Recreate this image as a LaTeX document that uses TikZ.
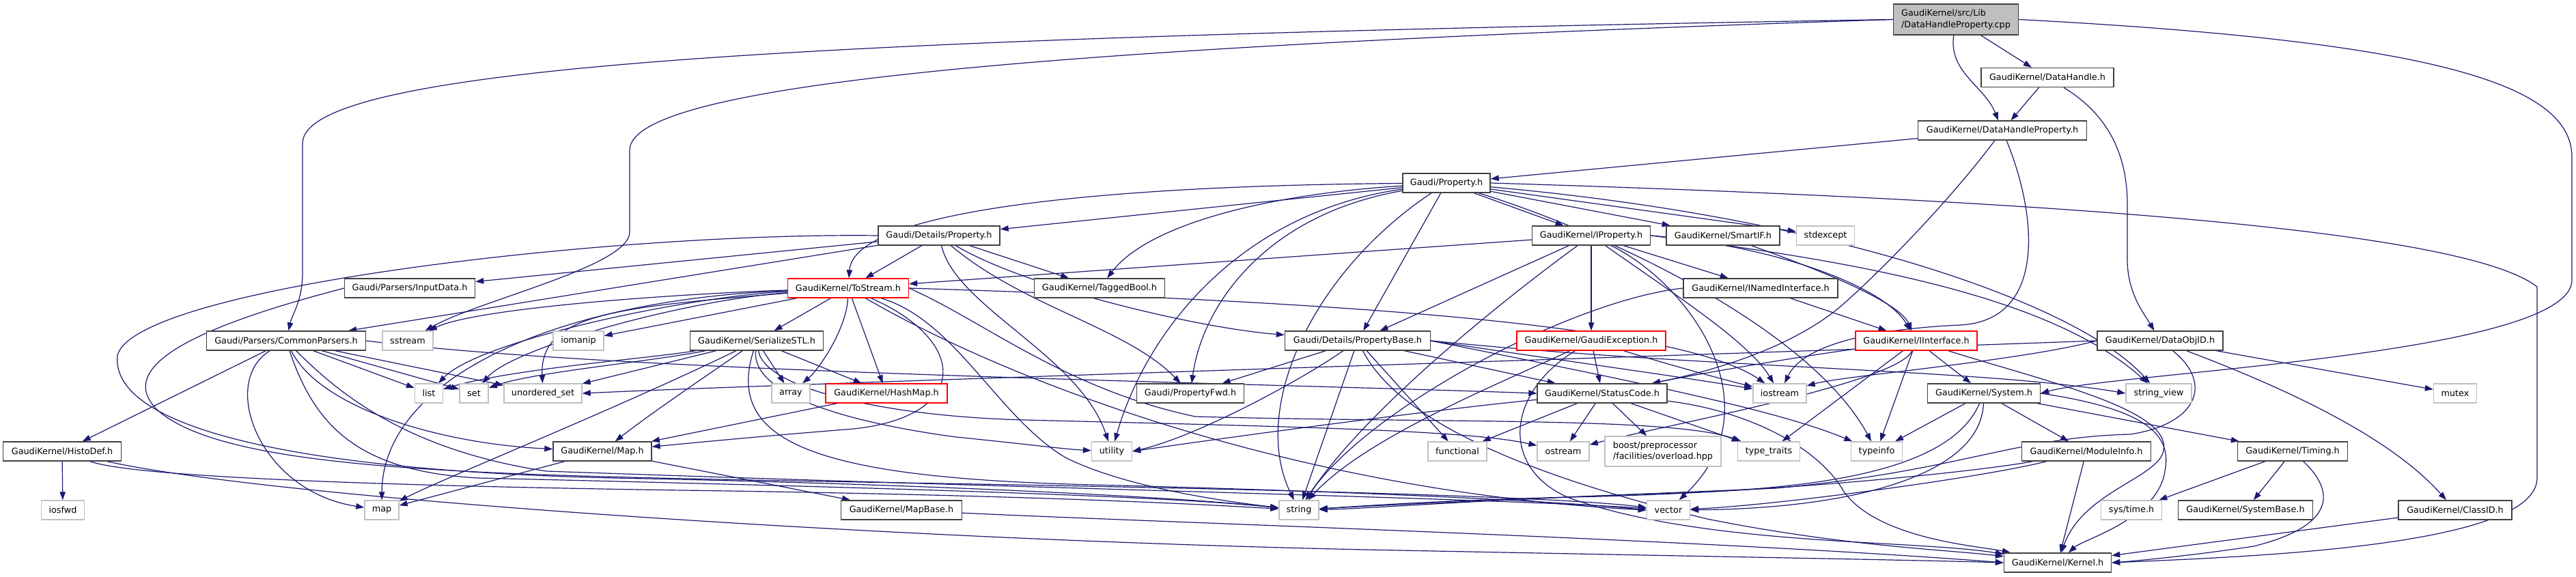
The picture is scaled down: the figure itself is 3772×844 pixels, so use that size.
\documentclass[tikz,border=0pt]{standalone}
\usepackage{fontspec}
\newfontfamily\dvs{DejaVu Sans}
\usetikzlibrary{arrows.meta,backgrounds}
\definecolor{EdgeBlue}{RGB}{25,25,112}
\definecolor{FrameDark}{RGB}{64,64,64}
\definecolor{FrameLight}{RGB}{191,191,191}
\definecolor{FrameRed}{RGB}{255,0,0}
\definecolor{RootGray}{RGB}{191,191,191}
\tikzset{
  hdr/.style    ={rectangle, draw=FrameDark, line width=1.4pt, fill=white, text=black,
                  font=\dvs\fontsize{12.8}{16.8}\selectfont, minimum height=28pt, inner sep=0pt},
  syshdr/.style ={hdr, draw=FrameLight},
  cuthdr/.style ={hdr, draw=FrameRed},
  roothdr/.style={hdr, fill=RootGray, align=left, minimum height=45pt},
  dep/.style    ={-{Triangle[length=12pt,width=8.5pt]}, draw=EdgeBlue, line width=1.2pt},
}
\begin{document}
\begin{tikzpicture}[x=1pt,y=-1pt]
  \useasboundingbox (0,0) rectangle (3772,844);

  \node[roothdr,minimum width=183pt] (cpp) at (2864,28.5) {GaudiKernel/src/Lib\\/DataHandleProperty.cpp};
  \node[hdr,minimum width=194pt] (dhandle) at (2998,113.5) {GaudiKernel/DataHandle.h};
  \node[hdr,minimum width=247pt] (dhprop) at (2932,191) {GaudiKernel/DataHandleProperty.h};
  \node[hdr,minimum width=128pt] (prop) at (2118,268) {Gaudi/Property.h};
  \node[hdr,minimum width=178pt] (detprop) at (1375,345) {Gaudi/Details/Property.h};
  \node[hdr,minimum width=173pt] (iprop) at (2330,345) {GaudiKernel/IProperty.h};
  \node[hdr,minimum width=166pt] (smartif) at (2523,345) {GaudiKernel/SmartIF.h};
  \node[syshdr,minimum width=85pt] (stdexcept) at (2673,345) {stdexcept};
  \node[hdr,minimum width=191pt] (indata) at (600,422) {Gaudi/Parsers/InputData.h};
  \node[cuthdr,minimum width=177pt] (tostream) at (1242,422) {GaudiKernel/ToStream.h};
  \node[hdr,minimum width=191pt] (taggedbool) at (1610,422) {GaudiKernel/TaggedBool.h};
  \node[hdr,minimum width=226pt] (inamed) at (2578,422) {GaudiKernel/INamedInterface.h};
  \node[hdr,minimum width=233pt] (commonp) at (419,499) {Gaudi/Parsers/CommonParsers.h};
  \node[syshdr,minimum width=74pt] (sstream) at (597,499) {sstream};
  \node[syshdr,minimum width=74pt] (iomanip) at (847,499) {iomanip};
  \node[hdr,minimum width=195pt] (serial) at (1108,499) {GaudiKernel/SerializeSTL.h};
  \node[hdr,minimum width=213pt] (propbase) at (1988,499) {Gaudi/Details/PropertyBase.h};
  \node[cuthdr,minimum width=218pt] (gexc) at (2330,499) {GaudiKernel/GaudiException.h};
  \node[cuthdr,minimum width=178pt] (iiface) at (2806,499) {GaudiKernel/IInterface.h};
  \node[hdr,minimum width=184pt] (dataobjid) at (3163,499) {GaudiKernel/DataObjID.h};
  \node[syshdr,minimum width=41pt] (list) at (628,576) {list};
  \node[syshdr,minimum width=42pt] (set) at (694,576) {set};
  \node[syshdr,minimum width=114pt] (uset) at (795,576) {unordered\_set};
  \node[syshdr,minimum width=56pt] (array) at (1158,576) {array};
  \node[cuthdr,minimum width=178pt] (hashmap) at (1298,576) {GaudiKernel/HashMap.h};
  \node[hdr,minimum width=157pt] (propfwd) at (1743,576) {Gaudi/PropertyFwd.h};
  \node[hdr,minimum width=190pt] (statuscode) at (2346,576) {GaudiKernel/StatusCode.h};
  \node[syshdr,minimum width=78pt] (iostream) at (2606,576) {iostream};
  \node[hdr,minimum width=165pt] (system) at (2905,576) {GaudiKernel/System.h};
  \node[syshdr,minimum width=96pt] (strview) at (3161,576) {string\_view};
  \node[syshdr,minimum width=63pt] (mutex) at (3595,576) {mutex};
  \node[hdr,minimum width=173pt] (histodef) at (91,661) {GaudiKernel/HistoDef.h};
  \node[hdr,minimum width=144pt] (maph) at (882,661) {GaudiKernel/Map.h};
  \node[syshdr,minimum width=59pt] (utility) at (1628,661) {utility};
  \node[syshdr,minimum width=86pt] (functional) at (2134,661) {functional};
  \node[syshdr,minimum width=76pt] (ostream) at (2289,661) {ostream};
  \node[syshdr,align=left,minimum width=170pt,minimum height=44pt] (boost) at (2435,661) {boost/preprocessor\\/facilities/overload.hpp};
  \node[syshdr,minimum width=91pt] (typetraits) at (2590,661) {type\_traits};
  \node[syshdr,minimum width=75pt] (typeinfo) at (2748,661) {typeinfo};
  \node[hdr,minimum width=189pt] (modinfo) at (3055,661) {GaudiKernel/ModuleInfo.h};
  \node[hdr,minimum width=161pt] (timing) at (3357,661) {GaudiKernel/Timing.h};
  \node[syshdr,minimum width=63pt] (iosfwd) at (92,747) {iosfwd};
  \node[syshdr,minimum width=50pt] (map) at (559,747) {map};
  \node[hdr,minimum width=177pt] (mapbase) at (1320,747) {GaudiKernel/MapBase.h};
  \node[syshdr,minimum width=58pt] (string) at (1902,747) {string};
  \node[syshdr,minimum width=63pt] (vector) at (2443,747) {vector};
  \node[syshdr,minimum width=89pt] (systime) at (3121,747) {sys/time.h};
  \node[hdr,minimum width=197pt] (sysbase) at (3288,747) {GaudiKernel/SystemBase.h};
  \node[hdr,minimum width=166pt] (classid) at (3595,747) {GaudiKernel/ClassID.h};
  \node[hdr,minimum width=157pt] (kernel) at (3013,824) {GaudiKernel/Kernel.h};

  \begin{scope}[on background layer]
    \fill[white] (0,0) rectangle (3772,844);

    \foreach \s/\t in {cpp/dhandle, dhandle/dhprop, dhprop/prop, prop/detprop, prop/propbase,
        prop/iprop, prop/smartif, prop/stdexcept, detprop/indata, detprop/commonp,
        detprop/tostream, detprop/taggedbool, tostream/iomanip, tostream/serial,
        tostream/hashmap, iprop/tostream, iprop/propbase, iprop/gexc, iprop/inamed,
        serial/array, serial/hashmap, serial/uset, commonp/histodef, commonp/list,
        commonp/set, commonp/uset, histodef/iosfwd, hashmap/maph, maph/map, maph/mapbase,
        propbase/propfwd, propbase/statuscode, propbase/functional, propbase/string,
        gexc/statuscode, inamed/iiface, iiface/system, iiface/typeinfo, iiface/typetraits,
        statuscode/boost, statuscode/functional, statuscode/ostream, statuscode/typetraits,
        system/modinfo, system/timing, system/typeinfo, modinfo/kernel, timing/systime,
        timing/sysbase, dataobjid/mutex, classid/kernel}
      \draw[dep] (\s) -- (\t);

    \draw[dep] (cpp) to[out=-98,in=112] (dhprop);
    \draw[dep] (cpp.west) .. controls (1200,55) and (443,95) .. (443,210) -- (443,400)
      .. controls (443,440) and (428,460) .. (commonp);
    \draw[dep] (cpp.west) .. controls (1500,70) and (922,125) .. (922,220) -- (922,340)
      .. controls (922,390) and (700,440) .. (sstream);
    \draw[dep] (cpp.east) .. controls (3550,60) and (3766,120) .. (3766,230) -- (3766,410)
      .. controls (3766,520) and (3100,545) .. (system.east);

    \draw[dep] (dhandle) .. controls (3090,170) and (3115,230) .. (3115,300) -- (3115,380)
      .. controls (3115,430) and (3140,460) .. (dataobjid);
    \draw[dep] (dhprop) .. controls (2850,300) and (2750,400) .. (2705,440)
      .. controls (2630,510) and (2500,545) .. (statuscode);
    \draw[dep] (dhprop) .. controls (2985,320) and (2995,470) .. (2870,476)
      .. controls (2740,482) and (2640,505) .. (iostream);

    \draw[dep] (prop) .. controls (1600,272) and (1250,310) .. (tostream);
    \draw[dep] (prop) .. controls (1850,285) and (1680,330) .. (taggedbool);
    \draw[dep] (prop) .. controls (1820,310) and (1680,480) .. (utility);
    \draw[dep] (prop) .. controls (1850,315) and (1760,450) .. (propfwd);
    \draw[dep] (prop) .. controls (1920,400) and (1830,600) .. (string);
    \draw[dep] (prop) .. controls (2350,340) and (2650,480) .. (typeinfo);
    \draw[dep] (prop) .. controls (2700,320) and (3050,450) .. (strview);
    \draw[dep] (prop.east) .. controls (2900,290) and (3600,330) .. (3715,420) -- (3715,700)
      .. controls (3715,800) and (3300,815) .. (kernel.east);

    \draw[dep] (detprop) .. controls (1500,420) and (1750,480) .. (propbase);
    \draw[dep] (detprop) .. controls (1500,450) and (1650,480) .. (propfwd);
    \draw[dep] (detprop) .. controls (1400,450) and (1580,520) .. (utility);
    \draw[dep] (detprop.west) .. controls (900,340) and (200,420) .. (172,520)
      .. controls (160,630) and (450,690) .. (900,700) .. controls (1400,710) and (1750,730) .. (string);

    \draw[dep] (indata.west) .. controls (320,470) and (160,530) .. (230,600)
      .. controls (330,690) and (700,695) .. (1200,705) .. controls (2000,718) and (2300,730) .. (vector);

    \draw[dep] (tostream) .. controls (1000,430) and (700,450) .. (sstream);
    \draw[dep] (tostream) .. controls (1000,435) and (700,500) .. (list);
    \draw[dep] (tostream) .. controls (1000,440) and (750,510) .. (set);
    \draw[dep] (tostream) .. controls (900,450) and (790,460) .. (uset);
    \draw[dep] (tostream) .. controls (800,440) and (560,560) .. (map);
    \draw[dep] (tostream) .. controls (1240,480) and (1200,540) .. (array);
    \draw[dep] (tostream) .. controls (1420,500) and (1420,610) .. (1250,628)
      .. controls (1100,640) and (1000,650) .. (maph);
    \draw[dep] (tostream) .. controls (1400,470) and (1460,610) .. (1560,670)
      .. controls (1650,715) and (1800,735) .. (string);
    \draw[dep] (tostream.east) .. controls (1900,440) and (2450,470) .. (iostream);
    \draw[dep] (tostream.east) .. controls (1440,470) and (1560,570) .. (1750,610)
      .. controls (2100,620) and (2450,610) .. (typetraits);
    \draw[dep] (tostream) .. controls (1480,560) and (1900,720) .. (vector.west);

    \draw[dep] (serial) .. controls (1050,540) and (960,600) .. (maph);
    \draw[dep] (serial) .. controls (950,525) and (750,540) .. (list);
    \draw[dep] (serial) .. controls (950,530) and (780,545) .. (set);
    \draw[dep] (serial) .. controls (900,600) and (650,700) .. (map);
    \draw[dep] (serial) .. controls (1100,580) and (1250,620) .. (1400,640)
      .. controls (1500,650) and (1560,658) .. (utility);
    \draw[dep] (serial) .. controls (1120,570) and (1300,610) .. (1500,615)
      .. controls (1900,625) and (2150,630) .. (ostream);
    \draw[dep] (serial) .. controls (1060,650) and (1200,700) .. (1600,710)
      .. controls (2000,720) and (2300,735) .. (vector.west);

    \draw[dep] (commonp) .. controls (320,560) and (380,720) .. (map);
    \draw[dep] (commonp) .. controls (470,600) and (650,650) .. (maph);
    \draw[dep] (commonp) .. controls (460,620) and (520,690) .. (700,700)
      .. controls (1200,712) and (1700,725) .. (string);
    \draw[dep] (commonp) .. controls (500,580) and (600,660) .. (800,690)
      .. controls (1500,715) and (2200,730) .. (vector);
    \draw[dep] (commonp.east) .. controls (900,545) and (1800,560) .. (statuscode.west);

    \draw[dep] (histodef) .. controls (200,700) and (600,712) .. (1000,718)
      .. controls (1500,725) and (1750,738) .. (string);
    \draw[dep] (histodef) .. controls (400,730) and (1300,790) .. (2000,805)
      .. controls (2500,815) and (2800,820) .. (kernel.west);
    \draw[dep] (mapbase) .. controls (1700,765) and (2500,790) .. (kernel.west);

    \draw[dep] (propbase) .. controls (1900,560) and (1750,640) .. (utility.east);
    \draw[dep] (propbase.east) .. controls (2300,530) and (2450,550) .. (iostream);
    \draw[dep] (propbase.east) .. controls (2400,560) and (2600,600) .. (typeinfo);
    \draw[dep] (propbase.east) .. controls (2500,540) and (2900,540) .. (strview.west);
    \draw[dep] (propbase) .. controls (2050,620) and (2250,700) .. (2500,760)
      .. controls (2700,800) and (2850,805) .. (kernel);

    \draw[dep] (iprop.east) .. controls (2600,360) and (2760,420) .. (iiface);
    \draw[dep] (iprop) .. controls (2200,440) and (2000,600) .. (string);
    \draw[dep] (iprop) .. controls (2450,430) and (2560,500) .. (iostream);
    \draw[dep] (iprop.east) .. controls (2700,380) and (3000,430) .. (strview);
    \draw[dep] (iprop) .. controls (2480,420) and (2600,600) .. (vector);

    \draw[dep] (gexc) .. controls (2200,580) and (2200,690) .. (2300,730)
      .. controls (2500,800) and (2800,790) .. (kernel);
    \draw[dep] (gexc) .. controls (2200,560) and (2000,640) .. (string);
    \draw[dep] (gexc) .. controls (2430,530) and (2520,555) .. (iostream);
    \draw[dep] (inamed.west) .. controls (2300,440) and (2000,600) .. (string);
    \draw[dep] (smartif) .. controls (2650,390) and (2780,440) .. (iiface);

    \draw[dep] (iiface) .. controls (2780,560) and (2450,620) .. (ostream);
    \draw[dep] (iiface) .. controls (2650,520) and (2500,545) .. (statuscode);
    \draw[dep] (iiface) .. controls (3000,560) and (3180,600) .. (3168,660)
      .. controls (3160,700) and (3050,720) .. (kernel);

    \draw[dep] (statuscode) .. controls (2100,600) and (1800,640) .. (utility.east);
    \draw[dep] (statuscode) .. controls (2550,600) and (2660,650) .. (2700,720)
      .. controls (2750,790) and (2900,800) .. (kernel);

    \draw[dep] (system) .. controls (2860,680) and (2700,715) .. (2450,722)
      .. controls (2200,730) and (2000,745) .. (string);
    \draw[dep] (system) .. controls (2900,700) and (2700,745) .. (vector);
    \draw[dep] (system.east) .. controls (3150,600) and (3180,640) .. (3170,690)
      .. controls (3160,760) and (3050,790) .. (kernel);
    \draw[dep] (modinfo) .. controls (2900,690) and (2600,722) .. (2300,728)
      .. controls (2100,733) and (1980,742) .. (string);
    \draw[dep] (modinfo) .. controls (2900,700) and (2600,740) .. (vector);
    \draw[dep] (timing) .. controls (3420,720) and (3420,770) .. (3300,800)
      .. controls (3200,815) and (3120,822) .. (kernel.east);

    \draw[dep] (dataobjid) .. controls (3350,570) and (3500,640) .. (classid);
    \draw[dep] (dataobjid) .. controls (3240,560) and (3220,620) .. (3120,636)
      .. controls (2950,640) and (2870,690) .. (2600,715) .. controls (2300,728) and (2050,738) .. (string);
    \draw[dep] (dataobjid.west) .. controls (2950,530) and (2700,550) .. (iostream);
    \draw[dep] (dataobjid.west) .. controls (2500,520) and (1200,560) .. (uset.east);
  \end{scope}
\end{tikzpicture}
\end{document}
